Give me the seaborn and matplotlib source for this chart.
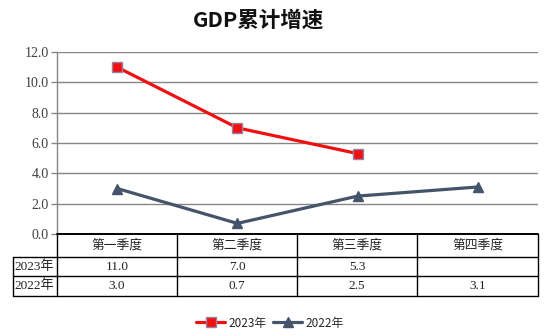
import numpy as np
import pandas as pd
import matplotlib
matplotlib.use("Agg")
import matplotlib.pyplot as plt
from matplotlib.lines import Line2D
import seaborn as sns

quarters = ["第一季度", "第二季度", "第三季度", "第四季度"]
series_names = ["2023年", "2022年"]
values_2023 = [11.0, 7.0, 5.3, np.nan]
values_2022 = [3.0, 0.7, 2.5, 3.1]
y_ticks = [0.0, 2.0, 4.0, 6.0, 8.0, 10.0, 12.0]

sns.set_style("white")
plt.rcParams["font.family"] = ["Noto Sans CJK SC", "DejaVu Sans"]
serif = ["Liberation Serif", "Noto Sans CJK SC"]

W, H = 548, 336
fig = plt.figure(figsize=(W / 100, H / 100), dpi=100)

# plot area in pixel coordinates
px_l, px_r, px_t, px_b = 57, 538, 52, 234
ax = fig.add_axes([px_l / W, 1 - px_b / H, (px_r - px_l) / W, (px_b - px_t) / H])

df = pd.DataFrame({
    "quarter": quarters * 2,
    "pos": list(range(4)) * 2,
    "value": values_2023 + values_2022,
    "series": [series_names[0]] * 4 + [series_names[1]] * 4,
})

colors = {"2023年": "#EE1111", "2022年": "#44546A"}
markers = {"2023年": "s", "2022年": "^"}
edges = {"2023年": "#9E7F9F", "2022年": "#44546A"}

for name in series_names:
    sub = df[df["series"] == name].dropna()
    sns.lineplot(data=sub, x="pos", y="value", ax=ax, color=colors[name],
                 linewidth=2.3, marker=markers[name], markersize=7.5,
                 markeredgecolor=edges[name], markeredgewidth=1.0,
                 zorder=3, legend=False)

ax.set_xlim(-0.5, 3.5)
ax.set_ylim(0, 12)
ax.set_yticks(y_ticks)
ax.set_yticklabels([f"{v:.1f}" for v in y_ticks], family=serif, fontsize=10,
                   color="#404040")
ax.set_xticks([])
ax.set_xlabel("")
ax.set_ylabel("")
ax.grid(axis="y", color="#868686", linewidth=1.0)
ax.set_axisbelow(True)
for s in ["top", "right", "bottom"]:
    ax.spines[s].set_visible(False)
ax.spines["left"].set_color("#868686")
ax.spines["left"].set_linewidth(1.0)
ax.tick_params(axis="y", direction="out", length=4, width=1.0,
               color="#868686", pad=2, left=True)

fig.text(258 / W, 1 - 20 / H, "GDP累计增速", ha="center", va="center",
         fontsize=15.5, fontweight="bold", color="#111111")

# data table below the plot area
def fx(x):
    return x / W

def fy(y):
    return 1 - y / H

col_edges = [57, 177, 297, 417, 538]
row_edges = [234, 257, 276, 296]
lab_l = 13

def hline(y, x0, x1, lw=1.0):
    fig.add_artist(Line2D([fx(x0), fx(x1)], [fy(y), fy(y)], color="black", lw=lw))

def vline(x, y0, y1, lw=1.0):
    fig.add_artist(Line2D([fx(x), fx(x)], [fy(y0), fy(y1)], color="black", lw=lw))

hline(row_edges[0], col_edges[0], col_edges[-1], lw=1.4)
for y in row_edges[1:]:
    hline(y, lab_l, col_edges[-1])
for x in col_edges:
    vline(x, row_edges[0], row_edges[-1])
vline(lab_l, row_edges[1], row_edges[-1])

for i, q in enumerate(quarters):
    cx = (col_edges[i] + col_edges[i + 1]) / 2
    fig.text(fx(cx), fy((row_edges[0] + row_edges[1]) / 2), q, ha="center",
             va="center", fontsize=9.2, family=serif, color="#222222")

for r, (name, vals) in enumerate(zip(series_names, [values_2023, values_2022])):
    cy = (row_edges[r + 1] + row_edges[r + 2]) / 2
    fig.text(fx(lab_l + 1), fy(cy), name, ha="left", va="center", fontsize=9.5,
             family=serif, color="#222222")
    for i, v in enumerate(vals):
        if np.isnan(v):
            continue
        cx = (col_edges[i] + col_edges[i + 1]) / 2
        fig.text(fx(cx), fy(cy), f"{v:.1f}", ha="center", va="center",
                 fontsize=9.5, family=serif, color="#222222")

handles = [Line2D([], [], color=colors[n], lw=2.3, marker=markers[n], markersize=7.5,
                  markeredgecolor=edges[n], markeredgewidth=1.0) for n in series_names]
fig.legend(handles, series_names, loc="center", bbox_to_anchor=(270 / W, fy(323)),
           ncol=2, frameon=False, handlelength=2.4, columnspacing=0.6,
           handletextpad=0.3, prop={"family": ["Noto Sans CJK SC", "DejaVu Sans"], "size": 8.5})

fig.savefig("out.png", dpi=100)
